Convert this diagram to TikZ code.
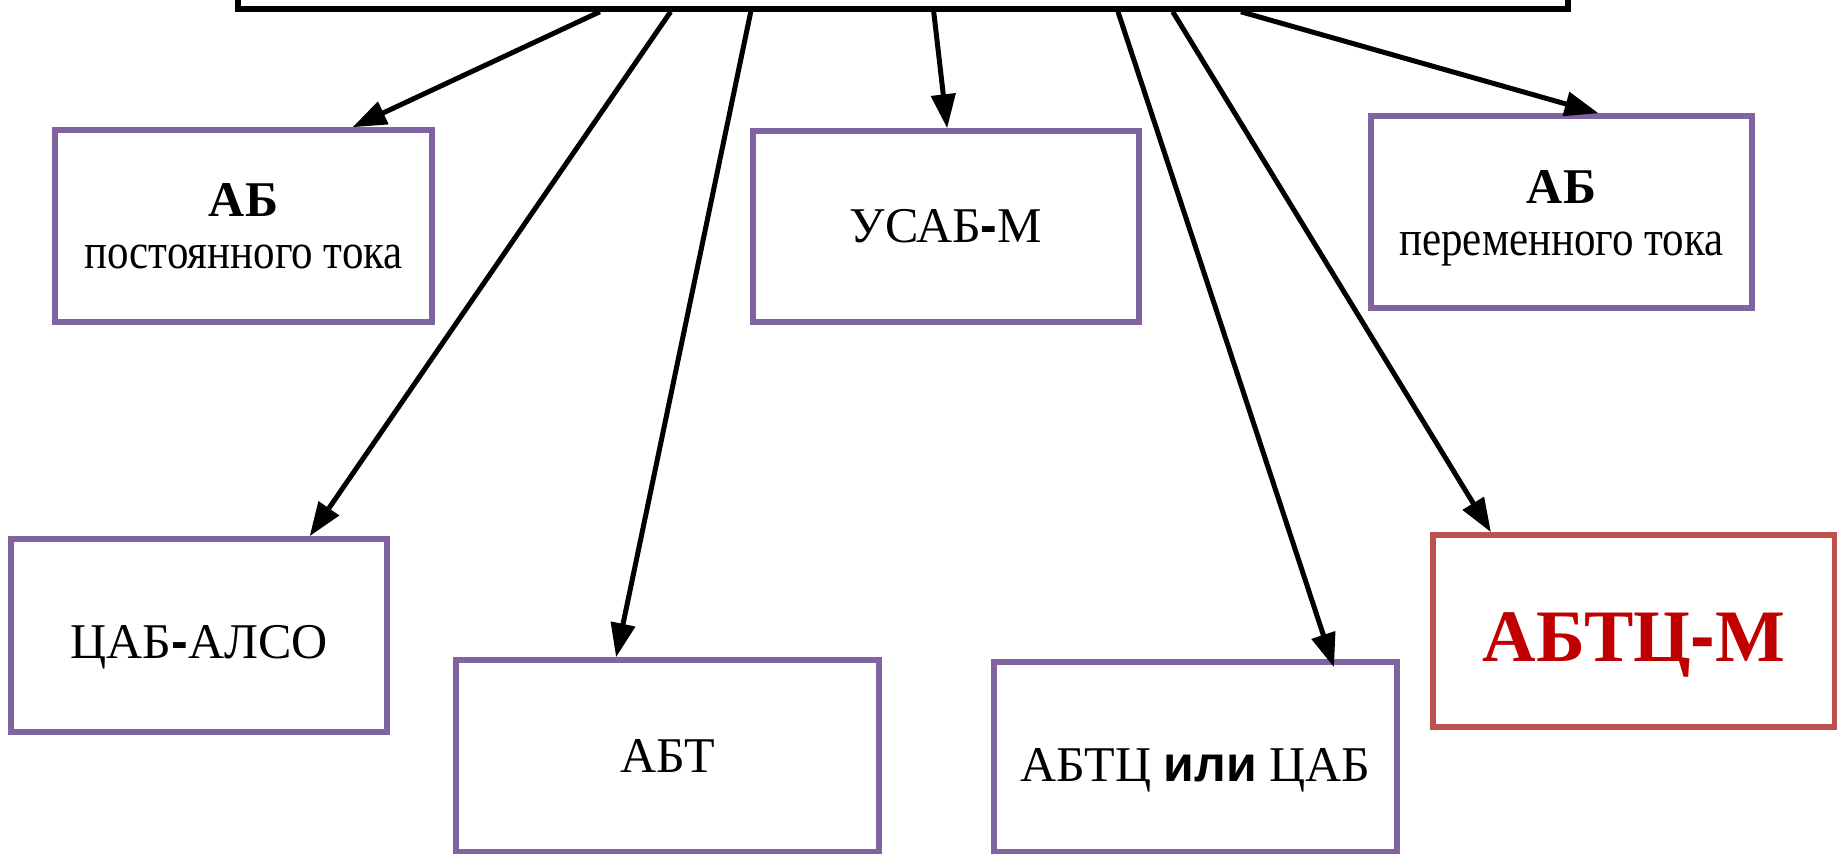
\documentclass[tikz,border=0pt]{standalone}
\usepackage{fontspec}
\setmainfont{Liberation Serif}
\setsansfont{Liberation Sans}
\usetikzlibrary{arrows.meta,calc}
\definecolor{boxpurple}{HTML}{8064A2}
\definecolor{boxred}{HTML}{C0504D}
\definecolor{txtred}{HTML}{C00000}
\newcommand{\bdash}{{\sffamily\bfseries -}}
\newcommand{\narrow}[1]{\scalebox{0.86}[1]{#1}}
\tikzset{
  box/.style={draw=boxpurple, line width=5.5pt, fill=white, rectangle, inner sep=0pt, align=center,
    font=\fontsize{50}{52}\selectfont},
  redbox/.style={box, draw=boxred},
  topbar/.style={draw=black, line width=5.5pt, fill=white, rectangle, inner sep=0pt},
  arr/.style={line width=5pt, -{Triangle[length=34pt,width=24pt]}}
}
\begin{document}
\begin{tikzpicture}[x=1pt,y=-1pt]
\clip (0,0) rectangle (1837,854);
\fill[white] (0,0) rectangle (1837,854);
\node[topbar, minimum width=1330, minimum height=60] (top) at (903,-21) {};
\node[box, minimum width=377, minimum height=192] (b1) at (243.5,226) {\textbf{АБ}\\\narrow{постоянного тока}};
\node[box, minimum width=386, minimum height=191] (b2) at (946,226.5) {УСАБ\bdash М};
\node[box, minimum width=381, minimum height=192] (b3) at (1561.5,212) {\rule{0pt}{46pt}\textbf{АБ}\\\narrow{переменного тока}};
\node[box, minimum width=376, minimum height=193, text height=45pt, text depth=0pt] (b4) at (199,635.5) {ЦАБ\bdash АЛСО};
\node[box, minimum width=423, minimum height=192] (b5) at (667.5,756) {АБТ};
\node[box, minimum width=403, minimum height=190, text height=49pt, text depth=0pt] (b6) at (1195.5,757) {АБТЦ \textsf{\textbf{или}} ЦАБ};
\node[redbox, minimum width=402, minimum height=192, text height=61pt, text depth=0pt, font=\fontsize{74}{80}\selectfont\bfseries, text=txtred] (b7) at (1634,631) {АБТЦ\bdash М};
\coordinate (s1) at ($(top.south west)!0.273!(top.south east)$);
\coordinate (s2) at ($(top.south west)!0.326!(top.south east)$);
\coordinate (s3) at ($(top.south west)!0.386!(top.south east)$);
\coordinate (s4) at ($(top.south west)!0.523!(top.south east)$);
\coordinate (s5) at ($(top.south west)!0.661!(top.south east)$);
\coordinate (s6) at ($(top.south west)!0.702!(top.south east)$);
\coordinate (s7) at ($(top.south west)!0.753!(top.south east)$);
\draw[arr] (s1) -- ($(b1.north west)!0.785!(b1.north east)$);
\draw[arr] (s2) -- ($(b4.north west)!0.79!(b4.north east)$);
\draw[arr] (s3) -- ($(b5.north west)!0.38!(b5.north east)$);
\draw[arr] (s4) -- ($(b2.north west)!0.503!(b2.north east)$);
\draw[arr] (s5) -- ($(b6.north west)!0.839!(b6.north east)+(0,8)$);
\draw[arr] (s6) -- ($(b7.north west)!0.149!(b7.north east)$);
\draw[arr] (s7) -- ($(b3.north west)!0.596!(b3.north east)$);
\end{tikzpicture}
\end{document}
